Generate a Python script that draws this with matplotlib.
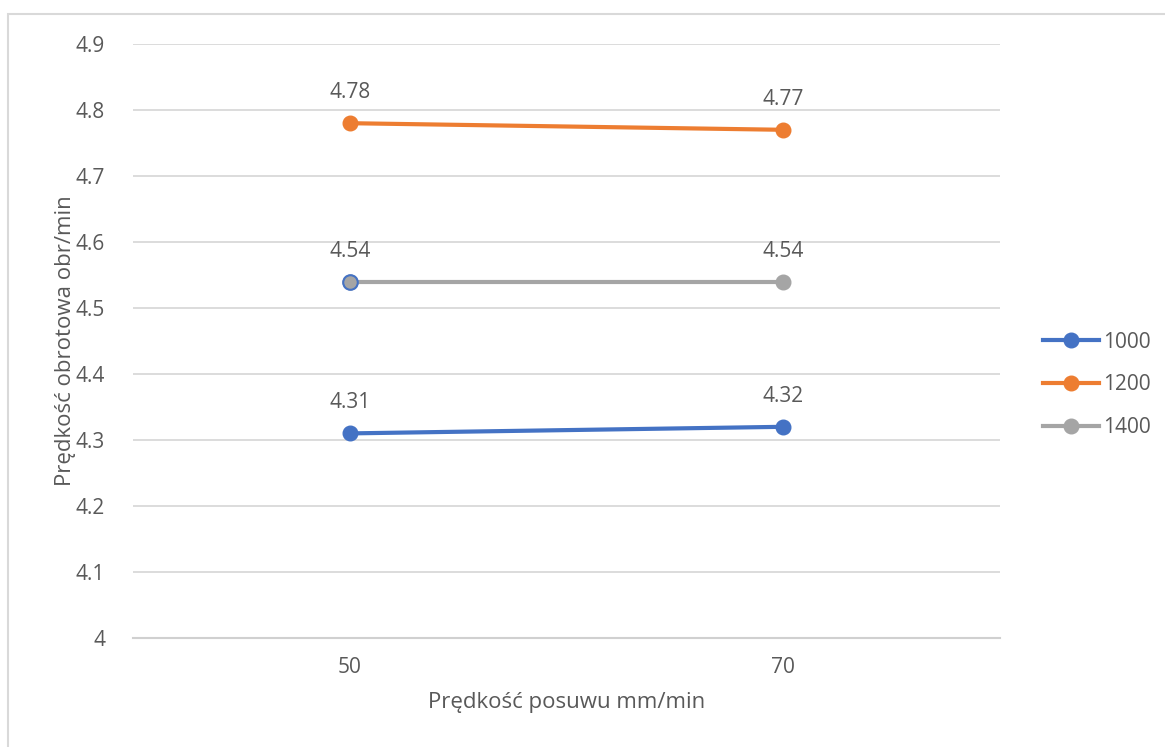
import matplotlib.pyplot as plt
from matplotlib.lines import Line2D
from matplotlib.patches import Rectangle

plt.rcParams['font.family'] = ['Open Sans', 'DejaVu Sans']

# feed speeds on the category axis
feeds = ["50", "70"]
series_names = ["1000", "1200", "1400"]
vals_1000 = [4.31, 4.32]
vals_1200 = [4.78, 4.77]
vals_1400 = [4.54, 4.54]
y_ticks = [4, 4.1, 4.2, 4.3, 4.4, 4.5, 4.6, 4.7, 4.8, 4.9]
y_tick_labels = ["4", "4.1", "4.2", "4.3", "4.4", "4.5", "4.6", "4.7", "4.8", "4.9"]

colors = ["#4472C4", "#ED7D31", "#A5A5A5"]
TXT = "#595959"
GRID = "#D9D9D9"

W, H = 1165, 747
fig = plt.figure(figsize=(W / 100, H / 100), dpi=100)
fig.patch.set_facecolor("white")

# chart area frame (runs off the right and bottom edge)
fig.patches.append(Rectangle((8 / W, -0.05), 1.2, 1 - 14 / H + 0.05,
                             transform=fig.transFigure, fill=False,
                             edgecolor=GRID, lw=1.5))

ax = fig.add_axes([133 / W, 1 - 638 / H, (1000 - 133) / W, (638 - 44) / H])
x = list(range(len(feeds)))

for vals, col in zip([vals_1000, vals_1200, vals_1400], colors):
    ax.plot(x, vals, color=col, lw=3, marker="o", ms=10.5, mfc=col, mec=col,
            solid_capstyle="round", zorder=3)
    for xi, v in zip(x, vals):
        ax.annotate(f"{v:.2f}", (xi, v), xytext=(0, 22), textcoords="offset points",
                    ha="center", va="center", fontsize=15, color=TXT)

# first grey marker keeps a blue outline
ax.plot([x[0]], [vals_1400[0]], marker="o", ms=10.5, mfc=colors[2], mec=colors[0],
        mew=1.5, ls="none", zorder=4)

ax.set_xlim(-0.5, len(feeds) - 0.5)
ax.set_ylim(4, 4.9)
ax.set_yticks(y_ticks)
ax.set_yticklabels(y_tick_labels)
ax.set_xticks(x)
ax.set_xticklabels(feeds)
ax.yaxis.grid(True, color=GRID, lw=1.3)
ax.set_axisbelow(True)
for s in ["top", "right", "left"]:
    ax.spines[s].set_visible(False)
ax.spines["bottom"].set_color("#D0D0D0")
ax.spines["bottom"].set_linewidth(1.5)
ax.tick_params(axis="both", length=0, labelsize=15, labelcolor=TXT)
ax.tick_params(axis="y", pad=20)
ax.tick_params(axis="x", pad=14)

ax.set_xlabel("Prędkość posuwu mm/min", fontsize=16, color=TXT, labelpad=10)
ax.set_ylabel("Prędkość obrotowa obr/min", fontsize=16, color=TXT, labelpad=0)

handles = [Line2D([0], [0], color=c, lw=3, marker="o", ms=10.5) for c in colors]
fig.legend(handles, series_names, loc="center left",
           bbox_to_anchor=(1024 / W, 1 - 385 / H), frameon=False,
           fontsize=15, labelcolor=TXT, handlelength=2.7, handletextpad=0.2,
           labelspacing=1.05)

fig.savefig("out.png", dpi=100)
